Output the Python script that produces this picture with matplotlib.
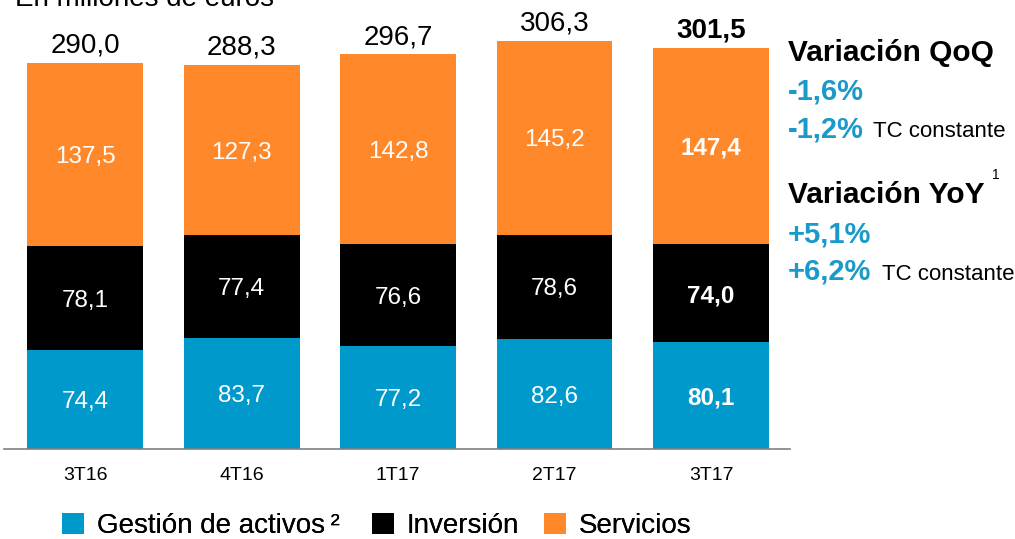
import matplotlib
matplotlib.use("Agg")
from matplotlib import pyplot as plt
import numpy as np

plt.rcParams['font.family'] = ['Liberation Sans', 'DejaVu Sans']

# Datos (millones de euros)
trimestres = ['3T16', '4T16', '1T17', '2T17', '3T17']
gestion = [74.4, 83.7, 77.2, 82.6, 80.1]
inversion = [78.1, 77.4, 76.6, 78.6, 74.0]
servicios = [137.5, 127.3, 142.8, 145.2, 147.4]
totales = ['290,0', '288,3', '296,7', '306,3', '301,5']

azul = '#0099cc'
negro = '#000000'
naranja = '#ff882b'
azul_txt = '#1a9ac8'

W, H = 1015, 539
fig = plt.figure(figsize=(W / 100, H / 100), dpi=100)
ax = fig.add_axes([4 / W, 90 / H, 786 / W, 439 / H])

x = np.arange(len(trimestres))
ancho = 0.741
g = np.array(gestion)
inv = np.array(inversion)
s = np.array(servicios)

b1 = ax.bar(x, g, ancho, color=azul, label='Gestión de activos\u2009²')
b2 = ax.bar(x, inv, ancho, bottom=g, color=negro, label='Inversión')
b3 = ax.bar(x, s, ancho, bottom=g + inv, color=naranja, label='Servicios')

ax.set_xlim(-0.518, 4.505)
ax.set_ylim(0, 330)

# etiquetas dentro de las barras
for i in range(len(x)):
    peso = 'bold' if i == len(x) - 1 else 'normal'
    for base, val in [(0, g[i]), (g[i], inv[i]), (g[i] + inv[i], s[i])]:
        ax.text(x[i], base + val / 2, f'{val:.1f}'.replace('.', ','),
                ha='center', va='center_baseline', color='white',
                fontsize=17.5, fontweight=peso)
    top = g[i] + inv[i] + s[i]
    ax.annotate(totales[i], (x[i], top), xytext=(0, 7.5),
                textcoords='offset points', ha='center', va='baseline',
                fontsize=20, fontweight=peso, color='black')

ax.set_xticks(x)
ax.set_xticklabels(trimestres, fontsize=14)
ax.tick_params(axis='x', length=0, pad=13)
ax.set_yticks([])
for lado in ['top', 'right', 'left']:
    ax.spines[lado].set_visible(False)
ax.spines['bottom'].set_color('#808080')
ax.spines['bottom'].set_linewidth(1.2)


def px(xp, yp):
    return xp / W, 1 - yp / H


# titulo (cortado arriba, como en el original)
fig.text(*px(15, 6), 'En millones de euros', fontsize=20, va='baseline', ha='left')

# variaciones
fig.text(*px(788, 61), 'Variación QoQ', fontsize=21.5, fontweight='bold', va='baseline')
fig.text(*px(788, 100), '-1,6%', fontsize=21, fontweight='bold', color=azul_txt, va='baseline')
fig.text(*px(788, 137), '-1,2%', fontsize=21, fontweight='bold', color=azul_txt, va='baseline')
fig.text(*px(873, 137), 'TC constante', fontsize=16, va='baseline')
fig.text(*px(788, 203), 'Variación YoY', fontsize=21.5, fontweight='bold', va='baseline')
fig.text(*px(992, 179), '1', fontsize=10, va='baseline')
fig.text(*px(788, 242), '+5,1%', fontsize=21, fontweight='bold', color=azul_txt, va='baseline')
fig.text(*px(788, 280), '+6,2%', fontsize=21, fontweight='bold', color=azul_txt, va='baseline')
fig.text(*px(882, 280), 'TC constante', fontsize=16, va='baseline')

# leyenda: una entrada por bloque para fijar la posicion de cada una
for h, xl in [(b1, 63), (b2, 373), (b3, 545)]:
    leg = fig.legend(handles=[h], loc='lower left', bbox_to_anchor=((xl - 1) / W, 0),
                     frameon=False, fontsize=20, handlelength=0.8,
                     handleheight=0.8, handletextpad=0.45,
                     borderpad=0.0, borderaxespad=0.0)
    fig.add_artist(leg)

fig.savefig('out.png', dpi=100)
